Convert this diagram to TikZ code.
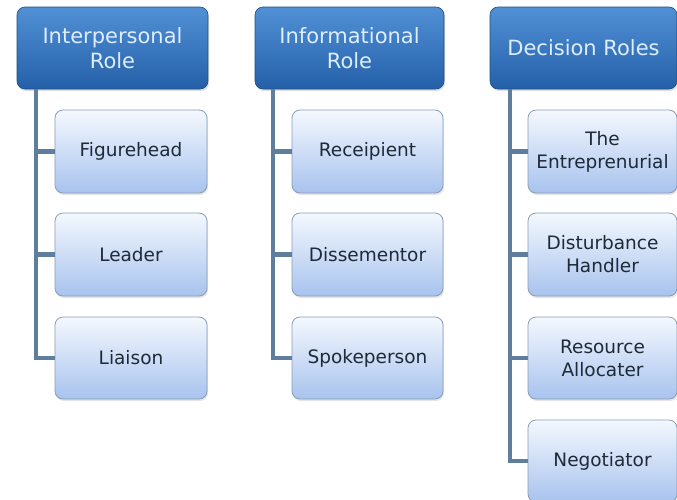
\documentclass[tikz,border=0pt]{standalone}
\usepackage{fontspec}
\setmainfont{DejaVu Sans}
\usetikzlibrary{calc,shadows}
\definecolor{hdtop}{HTML}{5290D6}
\definecolor{hdbot}{HTML}{2360A8}
\definecolor{hdtext}{HTML}{DCEEFF}
\definecolor{chtop}{HTML}{F4F8FE}
\definecolor{chbot}{HTML}{A8C3EE}
\definecolor{chborder}{HTML}{8A9DB6}
\definecolor{chtext}{HTML}{1E2A38}
\definecolor{conn}{HTML}{5F7E9E}
\tikzset{
  hdr/.style={draw=hdbot!80!black, line width=0.6pt, rounded corners=8pt,
    top color=hdtop, bottom color=hdbot, text=hdtext, align=center,
    font=\fontsize{21}{25}\selectfont, inner sep=0pt,
    drop shadow={shadow xshift=1pt, shadow yshift=-2pt, opacity=0.25}},
  child/.style={draw=chborder, line width=0.8pt, rounded corners=8pt,
    top color=chtop, bottom color=chbot, text=chtext, align=center,
    font=\fontsize{18.5}{23}\selectfont, inner sep=0pt,
    drop shadow={shadow xshift=1pt, shadow yshift=-2pt, opacity=0.2}},
  conline/.style={draw=conn, line width=4.5pt}
}
\begin{document}
\begin{tikzpicture}[x=1pt,y=-1pt]
\useasboundingbox (0,0) rectangle (677,499);
\fill[white] (0,0) rectangle (677,499);
\clip (0,0) rectangle (677,499);
% headers
\node[hdr, minimum width=191pt, minimum height=82pt] (h1) at (112.5,48) {Interpersonal\\Role};
\node[hdr, minimum width=189pt, minimum height=82pt] (h2) at (349.5,48) {Informational\\Role};
\node[hdr, minimum width=187pt, minimum height=82pt] (h3) at (583.5,48) {Decision Roles};
% trunk coordinates
\coordinate (t1) at (36,89);
\coordinate (t2) at (273,89);
\coordinate (t3) at (510,89);
% children column 1
\node[child, minimum width=152pt, minimum height=83pt] (c11) at (131,151.5) {Figurehead};
\node[child, minimum width=152pt, minimum height=83pt] (c12) at (131,254.5) {Leader};
\node[child, minimum width=152pt, minimum height=82pt] (c13) at (131,358) {Liaison};
% column 2
\node[child, minimum width=151pt, minimum height=83pt] (c21) at (367.5,151.5) {Receipient};
\node[child, minimum width=151pt, minimum height=83pt] (c22) at (367.5,254.5) {Dissementor};
\node[child, minimum width=151pt, minimum height=82pt] (c23) at (367.5,358) {Spokeperson};
% column 3
\node[child, minimum width=149pt, minimum height=83pt] (c31) at (602.5,151.5) {The\\Entreprenurial};
\node[child, minimum width=149pt, minimum height=83pt] (c32) at (602.5,254.5) {Disturbance\\Handler};
\node[child, minimum width=149pt, minimum height=82pt] (c33) at (602.5,358) {Resource\\Allocater};
\node[child, minimum width=149pt, minimum height=82pt] (c34) at (602.5,461) {Negotiator};
% connectors
\draw[conline] (t1) |- (c13.west);
\draw[conline] (c11.west) -- (c11.west -| t1);
\draw[conline] (c12.west) -- (c12.west -| t1);
\draw[conline] (t2) |- (c23.west);
\draw[conline] (c21.west) -- (c21.west -| t2);
\draw[conline] (c22.west) -- (c22.west -| t2);
\draw[conline] (t3) |- (c34.west);
\draw[conline] (c31.west) -- (c31.west -| t3);
\draw[conline] (c32.west) -- (c32.west -| t3);
\draw[conline] (c33.west) -- (c33.west -| t3);
\end{tikzpicture}
\end{document}
